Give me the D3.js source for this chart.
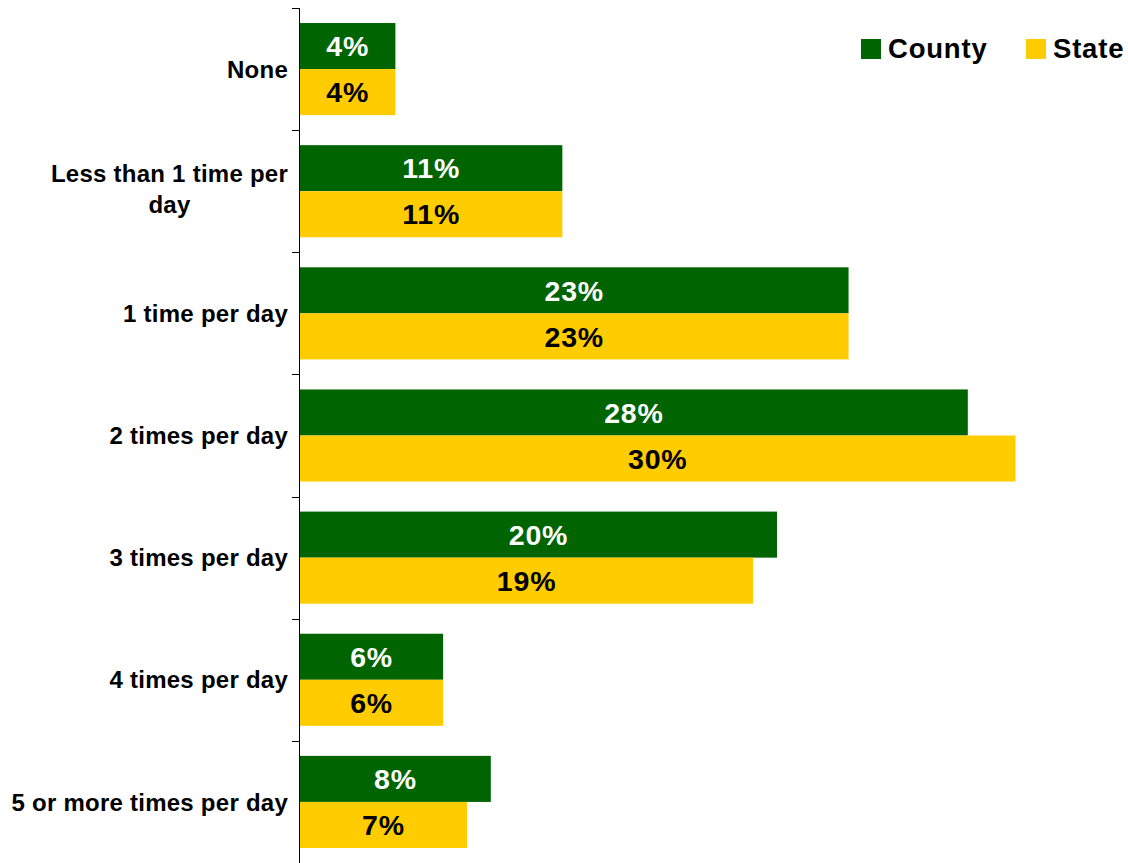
<!DOCTYPE html>
<html>
<head>
<meta charset="utf-8">
<script src="https://cdn.jsdelivr.net/npm/d3@7"></script>
<style>
  html, body { margin: 0; padding: 0; background: #fff; }
  svg { display: block; font-family: "Liberation Sans", Arial, sans-serif; font-weight: bold; }
</style>
</head>
<body>
<svg id="chart" width="1128" height="863"></svg>
<script>
const categories = ["None", "Less than 1 time per day", "1 time per day", "2 times per day", "3 times per day", "4 times per day", "5 or more times per day"];
const categoryLines = [["None"], ["Less than 1 time per", "day"], ["1 time per day"], ["2 times per day"], ["3 times per day"], ["4 times per day"], ["5 or more times per day"]];
const seriesNames = ["County", "State"];
const countyValues = [4, 11, 23, 28, 20, 6, 8];
const stateValues = [4, 11, 23, 30, 19, 6, 7];
const colors = ["#006400", "#FFCC00"];
const labelColors = ["#ffffff", "#000000"];

const svg = d3.select("#chart");
const x0 = 300;
const x = d3.scaleLinear().domain([0, 35]).range([x0, x0 + 23.85 * 35]);
const y = d3.scaleBand().domain(categories).range([8, 863]).paddingInner(0.246).paddingOuter(0.123);
const ySub = d3.scaleBand().domain(seriesNames).range([0, y.bandwidth()]);

const data = categories.map((c, i) => ({ cat: c, lines: categoryLines[i], vals: [countyValues[i], stateValues[i]] }));

// bars
const groups = svg.append("g").selectAll("g").data(data).join("g")
  .attr("transform", d => `translate(0,${y(d.cat)})`);

groups.selectAll("rect").data(d => d.vals.map((v, k) => ({ v, k }))).join("rect")
  .attr("x", x(0))
  .attr("y", d => ySub(seriesNames[d.k]))
  .attr("width", d => x(d.v) - x(0))
  .attr("height", ySub.bandwidth())
  .attr("fill", d => colors[d.k]);

groups.selectAll("text.val").data(d => d.vals.map((v, k) => ({ v, k }))).join("text")
  .attr("class", "val")
  .attr("x", d => (x(0) + x(d.v)) / 2)
  .attr("y", d => ySub(seriesNames[d.k]) + ySub.bandwidth() / 2)
  .attr("dy", "0.36em")
  .attr("text-anchor", "middle")
  .attr("font-size", 28.5)
  .attr("letter-spacing", 0.8)
  .attr("fill", d => labelColors[d.k])
  .text(d => d.v + "%");

// axis line and ticks at category boundaries
const axisG = svg.append("g");
axisG.append("line")
  .attr("x1", 299.5).attr("x2", 299.5)
  .attr("y1", y.range()[0]).attr("y2", y.range()[1])
  .attr("stroke", "#000").attr("stroke-width", 1);
const boundaries = d3.range(categories.length + 1).map(i => y.range()[0] + i * y.step());
axisG.selectAll("line.tick").data(boundaries).join("line")
  .attr("class", "tick")
  .attr("x1", 292).attr("x2", 299.5)
  .attr("y1", d => Math.round(d) + 0.5).attr("y2", d => Math.round(d) + 0.5)
  .attr("stroke", "#000").attr("stroke-width", 1);

// category labels
const lab = svg.append("g").selectAll("text").data(data).join("text")
  .attr("font-size", 24)
  .attr("letter-spacing", 0.25)
  .attr("fill", "#000")
  .attr("transform", d => `translate(288,${y(d.cat) + y.bandwidth() / 2})`);
lab.each(function(d) {
  const t = d3.select(this);
  const n = d.lines.length;
  const lh = 31;
  if (n === 1) {
    t.append("tspan").attr("x", 0).attr("y", 0).attr("dy", "0.36em").attr("text-anchor", "end").text(d.lines[0]);
  } else {
    const y0 = -lh * (n - 1) / 2 - 2;
    const first = t.append("tspan").attr("x", 0).attr("y", y0).attr("dy", "0.36em").attr("text-anchor", "end").text(d.lines[0]);
    const w = first.node().getComputedTextLength();
    for (let j = 1; j < n; j++) {
      t.append("tspan").attr("x", -w / 2).attr("y", y0 + j * lh).attr("dy", "0.36em").attr("text-anchor", "middle").text(d.lines[j]);
    }
  }
});

// legend
const legendX = [861, 1026];
const leg = svg.append("g").selectAll("g").data(seriesNames).join("g")
  .attr("transform", (d, i) => `translate(${legendX[i]},39)`);
leg.append("rect").attr("width", 20).attr("height", 20).attr("fill", (d, i) => colors[i]);
leg.append("text").attr("x", 27).attr("y", 18.5).attr("font-size", 27.5).attr("letter-spacing", 0.8).attr("fill", "#000").text(d => d);
</script>
</body>
</html>
